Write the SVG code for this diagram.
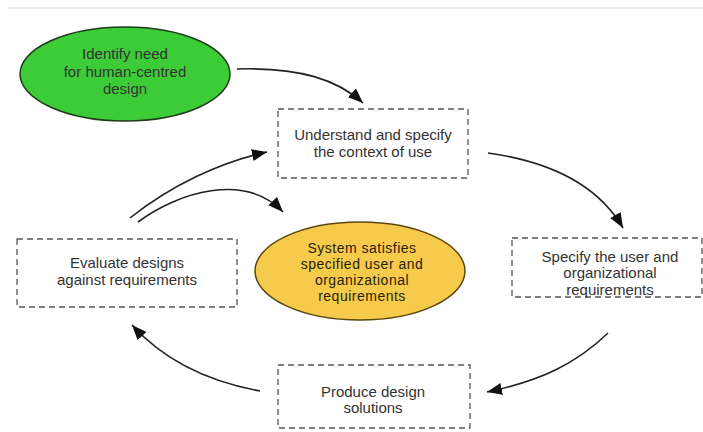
<svg xmlns="http://www.w3.org/2000/svg" width="703" height="432" viewBox="0 0 703 432">
<style>
text{font-family:"Liberation Sans",Arial,sans-serif;font-size:15px;text-anchor:middle;fill:#333}
.box{fill:#fff;stroke:#555;stroke-width:1.3;stroke-dasharray:6 4}
.conn{fill:none;stroke:#222;stroke-width:1.6;marker-end:url(#ah)}
.sys{font-size:14px;letter-spacing:0.5px;fill:#2a2208}
</style>
<defs>
<marker id="ah" markerUnits="userSpaceOnUse" markerWidth="18" markerHeight="14" refX="15" refY="6" orient="auto">
<path d="M0,0 L15,6 L0,12 Z" fill="#111"/>
</marker>
</defs>
<rect width="703" height="432" fill="#fff"/>
<line x1="8" y1="8" x2="703" y2="8" stroke="#e2e2e2" stroke-width="1.5"/>
<g id="identify">
<ellipse cx="125" cy="74" rx="105" ry="47" fill="#3ccc38" stroke="#1d3a1a" stroke-width="1.5"/>
<text x="125" y="59" fill="#143214">Identify need</text>
<text x="125" y="77" fill="#143214">for human-centred</text>
<text x="125" y="94" fill="#143214">design</text>
</g>
<g id="understand">
<rect class="box" x="278" y="109" width="190" height="69"/>
<text x="373" y="140">Understand and specify</text>
<text x="373" y="157">the context of use</text>
</g>
<g id="specify">
<rect class="box" x="512" y="238" width="190" height="59"/>
<text x="610" y="262">Specify the user and</text>
<text x="610" y="278">organizational</text>
<text x="610" y="295">requirements</text>
</g>
<g id="produce">
<rect class="box" x="278" y="365" width="192" height="63"/>
<text x="373" y="397">Produce design</text>
<text x="373" y="413">solutions</text>
</g>
<g id="evaluate">
<rect class="box" x="17" y="239" width="220" height="68"/>
<text x="127" y="268">Evaluate designs</text>
<text x="127" y="285">against requirements</text>
</g>
<g id="system">
<ellipse cx="360" cy="271" rx="105" ry="49" fill="#f6cb4c" stroke="#5a4810" stroke-width="1.5"/>
<text class="sys" x="362" y="253">System satisfies</text>
<text class="sys" x="362" y="269">specified user and</text>
<text class="sys" x="362" y="285">organizational</text>
<text class="sys" x="362" y="301">requirements</text>
</g>
<g id="connectors">
<path class="conn" d="M237,69 C300,67 338,80 363,103"/>
<path class="conn" d="M488,153 C560,163 602,192 623,228"/>
<path class="conn" d="M608,333 C576,364 540,381 487,392"/>
<path class="conn" d="M260,391 C200,380 160,356 132,325"/>
<path class="conn" d="M130,218 C170,186 220,162 267,152"/>
<path class="conn" d="M138,222 C178,192 245,172 283,212"/>
</g>
</svg>
